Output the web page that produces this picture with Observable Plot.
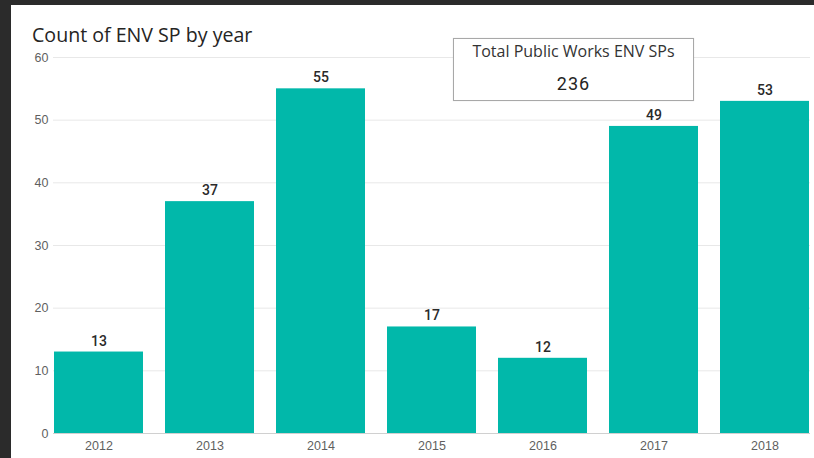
<!DOCTYPE html>
<html>
<head>
<meta charset="utf-8">
<script src="https://cdn.jsdelivr.net/npm/d3@7"></script>
<script src="https://cdn.jsdelivr.net/npm/@observablehq/plot@0.6"></script>
<style>
  html, body { margin: 0; padding: 0; background: #2b2b2b; width: 814px; height: 458px; overflow: hidden; }
  #panel { position: absolute; left: 11px; top: 5px; width: 803px; height: 453px; background: #fff; }
  #title { position: absolute; left: 21px; top: 20px; font-family: "Open Sans", sans-serif; font-size: 19.6px; line-height: 19px; color: #252423; white-space: nowrap; }
  #card { position: absolute; left: 442px; top: 33px; width: 239px; height: 61px; border: 1px solid #a8a8a8; background: #fff; text-align: center; font-family: "Open Sans", sans-serif; color: #333; box-shadow: 0 0 1px rgba(0,0,0,0.15); }
  #card .lab { position: absolute; left: 0; right: 0; top: 2px; font-size: 16px; line-height: 20px; }
  #card .val { position: absolute; left: 0; right: 0; top: 34px; font-family: Roboto, sans-serif; font-size: 18px; line-height: 22px; color: #252423; letter-spacing: 1px; }
  #chart { position: absolute; left: 0; top: 0; }
</style>
</head>
<body>
<div id="panel">
  <div id="chart"></div>
  <div id="title">Count of ENV SP by year</div>
  <div id="card"><div class="lab">Total Public Works ENV SPs</div><div class="val" id="total"></div></div>
</div>
<script>
const years = ["2012", "2013", "2014", "2015", "2016", "2017", "2018"];
const counts = [13, 37, 55, 17, 12, 49, 53];
const yTicks = [0, 10, 20, 30, 40, 50, 60];
const cardLabel = "Total Public Works ENV SPs";

const data = years.map((y, i) => ({year: y, count: counts[i]}));
document.getElementById("total").textContent = d3.sum(counts);

const chart = Plot.plot({
  width: 803,
  height: 453,
  marginTop: 52,
  marginBottom: 25,
  marginLeft: 42,
  marginRight: 4,
  style: {background: "transparent", fontFamily: "'Liberation Sans', Arial, sans-serif", fontSize: "12.5px", color: "#5f5f5f"},
  x: {domain: years, paddingInner: 0.2, paddingOuter: 0, label: null, tickSize: 0, tickPadding: 8},
  y: {domain: [0, 60], ticks: yTicks, label: null, tickSize: 0, tickPadding: 5},
  marks: [
    Plot.gridY(yTicks, {stroke: "#e8e8e8", strokeOpacity: 1}),
    Plot.barY(data, {x: "year", y: "count", fill: "#01B8AA"}),
    Plot.ruleY([0], {stroke: "#d0d0d0"}),
    Plot.text(data, {x: "year", y: "count", text: d => String(d.count), dy: -11, fill: "#2a2a2a", fontSize: 14, fontFamily: "Roboto, sans-serif", fontWeight: 500})
  ]
});
document.getElementById("chart").appendChild(chart);
</script>
</body>
</html>
